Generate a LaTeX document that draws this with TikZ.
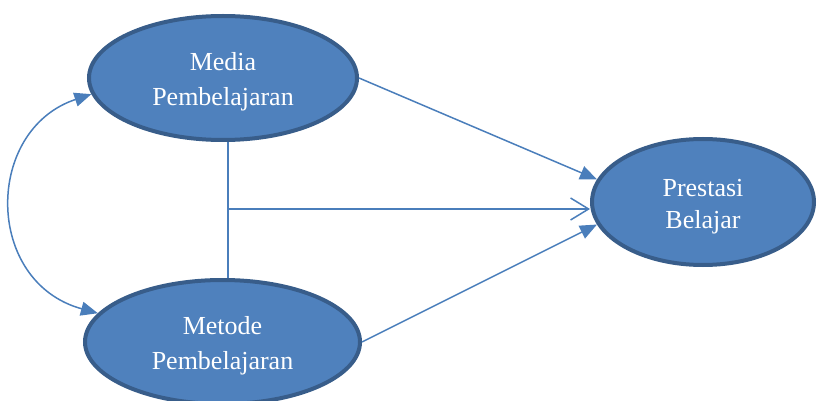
\documentclass[tikz,border=0pt]{standalone}
\usepackage{fontspec}
\setmainfont{Liberation Serif}
\usetikzlibrary{shapes.geometric,arrows.meta}
\definecolor{ellfill}{HTML}{4F81BD}
\definecolor{elldraw}{HTML}{385D8A}
\definecolor{arrcol}{HTML}{4A7EBB}
\newcommand{\topstrut}{\rule{0pt}{26pt}}
\tikzset{
  oval/.style={ellipse, fill=ellfill, draw=elldraw, line width=4pt, inner sep=0pt,
    text=white, align=center, font=\fontsize{26}{35}\selectfont},
  link/.style={draw=arrcol, line width=1.5pt},
  solidhead/.style={-{Triangle[length=17pt,width=14pt]}},
  openhead/.style={-{Straight Barb[length=18pt,width=22pt,line width=1.5pt]}},
}
\begin{document}
\begin{tikzpicture}[x=1pt,y=-1pt]
\useasboundingbox (0,0) rectangle (817,401);
\node[oval, minimum width=268pt, minimum height=124pt] (media) at (223,78) {\topstrut Media\\Pembelajaran};
\node[oval, minimum width=222pt, minimum height=126pt] (prestasi) at (703,202) {\topstrut Prestasi\\[-3pt]Belajar};
\node[oval, minimum width=275pt, minimum height=124pt] (metode) at (222.5,342) {\topstrut Metode\\Pembelajaran};
\coordinate (j) at (228,209);
\draw[link] (j |- media.south) -- (j |- metode.north);
\draw[link, openhead] (j) -- (j -| prestasi.west);
\draw[link, solidhead] (media.east) -- (prestasi.168);
\draw[link, solidhead] (metode.east) -- (prestasi.192);
\draw[link, {Triangle[length=17pt,width=14pt]}-{Triangle[length=17pt,width=14pt]}]
  (media.187) .. controls (-16,130) and (-16,282) .. (metode.167);
\end{tikzpicture}
\end{document}
